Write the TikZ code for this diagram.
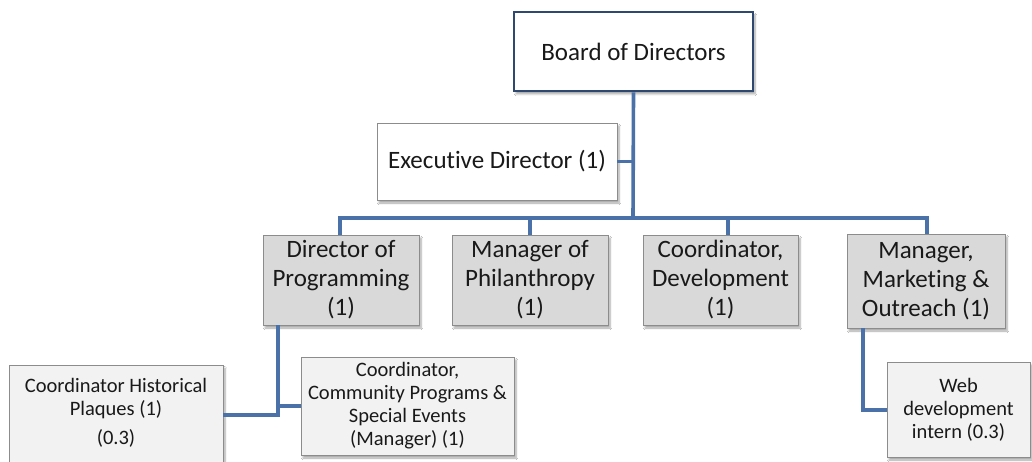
\documentclass[tikz,border=0pt]{standalone}
\usepackage{fontspec}
\setmainfont{Carlito}[Ligatures=NoCommon]
\usetikzlibrary{shadows.blur}
\definecolor{linkblue}{RGB}{74,114,168}
\definecolor{navy}{RGB}{47,72,112}
\definecolor{boxgray}{RGB}{217,217,217}
\definecolor{boxlight}{RGB}{242,242,242}
\definecolor{edgegray}{RGB}{140,140,140}
\begin{document}
\begin{tikzpicture}[x=1pt,y=-1pt,
  box/.style={draw=edgegray, line width=0.9pt, align=center, inner sep=0pt,
    text=black!90, blur shadow={shadow xshift=2pt, shadow yshift=-3pt,
    shadow blur steps=6, shadow opacity=35}},
  top/.style={box, fill=white, font=\fontsize{25}{30}\selectfont},
  mid/.style={box, fill=boxgray, font=\fontsize{25}{29}\selectfont},
  lowfont/.style={font=\fontsize{20.5}{23}\selectfont},
  low/.style={box, fill=boxlight, lowfont},
  plain/.style={lowfont, align=center, inner sep=0pt, text=black!90},
  conn/.style={draw=linkblue, line width=3.6pt}]
\useasboundingbox (0,0) rectangle (1032,462);
\clip (0,0) rectangle (1032,462);
\fill[white] (0,0) rectangle (1032,462);

% nodes
\node[top, draw=navy, line width=2.6pt, minimum width=239pt, minimum height=79pt]
  (board) at (633.5,51.5) {Board of Directors};
\node[top, minimum width=240pt, minimum height=77pt]
  (exec) at (497,161.5) {Executive Director (1)};
\node[mid, minimum width=156pt, minimum height=90pt]
  (dprog) at (341,280) {Director of\\Programming\\(1)};
\node[mid, minimum width=156pt, minimum height=90pt]
  (mphil) at (530,280) {Manager of\\Philanthropy\\(1)};
\node[mid, minimum width=155pt, minimum height=90pt]
  (cdev) at (720.5,280) {Coordinator,\\Development\\(1)};
\node[mid, minimum width=158pt, minimum height=94pt]
  (mmkt) at (926,281) {Manager,\\Marketing \&\\Outreach (1)};
\node[low, minimum width=214pt, minimum height=113pt, anchor=north]
  (chp) at (116,365) {};
\node[plain] (chptext) at (116,413)
  {Coordinator Historical\\Plaques (1)\\[6pt](0.3)};
\node[low, minimum width=213pt, minimum height=98pt]
  (ccp) at (407.5,406) {Coordinator,\\Community Programs \&\\Special Events\\(Manager) (1)};
\node[low, minimum width=143pt, minimum height=95pt]
  (web) at (958.5,409.5) {Web\\development\\intern (0.3)};

% junction points
\coordinate (bus) at (633,218);
\coordinate (pj) at (278,415);
\coordinate (mj) at (863,410);

% connectors
\draw[conn] (board.south) -- (bus);
\draw[conn] (exec.east) -- (exec.east -| bus);
\draw[conn] ([xshift=-1pt]dprog.north) |- (bus) -| ([xshift=1pt]mmkt.north);
\draw[conn] (mphil.north) -- (mphil.north |- bus);
\draw[conn] ([xshift=7.5pt]cdev.north) -- ([xshift=7.5pt]cdev.north |- bus);
\draw[conn] (dprog.south -| pj) -- (pj) -- (pj -| chp.east);
\draw[conn] (ccp.west) -- (ccp.west -| pj);
\draw[conn] (mmkt.south -| mj) -- (mj) -- (mj -| web.west);
\end{tikzpicture}
\end{document}
